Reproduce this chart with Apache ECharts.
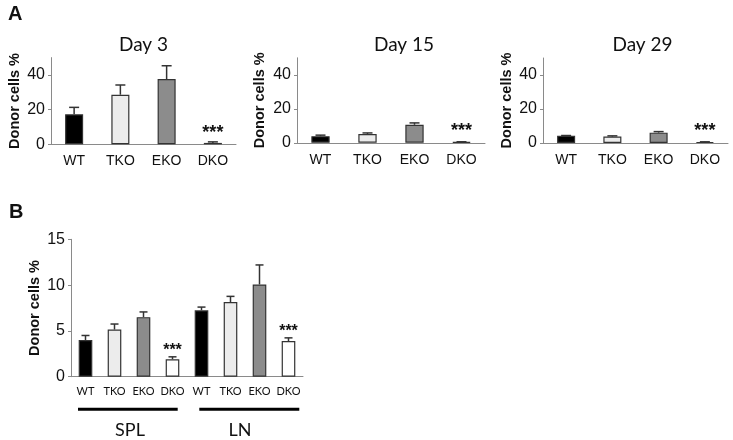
<!DOCTYPE html>
<html>
<head>
<meta charset="utf-8">
<script src="https://cdn.jsdelivr.net/npm/echarts@6/dist/echarts.min.js"></script>
<style>html,body{margin:0;padding:0;background:#fff;}#c{width:733px;height:440px;}</style>
</head>
<body>
<div id="c"></div>
<script>
const categories = ['WT', 'TKO', 'EKO', 'DKO'];
const panelTitles = ['Day 3', 'Day 15', 'Day 29'];
const day3Values = [17.3, 28.6, 37.6, 0.8];
const day3Errors = [4.0, 5.6, 7.7, 0.6];
const day15Values = [3.9, 5.2, 10.6, 0.5];
const day15Errors = [0.6, 0.6, 1.1, 0.1];
const day29Values = [4.3, 3.8, 6.1, 0.6];
const day29Errors = [0.1, 0.4, 0.6, 0.1];
const significanceA = ['', '', '', '***'];
const yTicksA = [0, 20, 40];

const bCategories = ['WT', 'TKO', 'EKO', 'DKO', 'WT', 'TKO', 'EKO', 'DKO'];
const bValues = [4.0, 5.15, 6.5, 1.9, 7.25, 8.15, 10.07, 3.9];
const bErrors = [0.5, 0.6, 0.57, 0.27, 0.35, 0.62, 2.13, 0.34];
const significanceB = ['', '', '', '***', '', '', '', '***'];
const yTicksB = [0, 5, 10, 15];
const bGroups = ['SPL', 'LN'];
const yName = 'Donor cells %';

const barColors = ['#000000', '#ececec', '#8c8c8c', '#ffffff'];
const chart = echarts.init(document.getElementById('c'));

const grids = [
  {left: 51, top: 57.6, width: 185, height: 86.7},
  {left: 297, top: 57.8, width: 188, height: 85},
  {left: 543, top: 58, width: 185, height: 85},
  {left: 71, top: 239.3, width: 232, height: 137.4}
];

function xAxisCfg(idx, cats, fs, margin, font) {
  return {
    type: 'category', gridIndex: idx, data: cats,
    axisLine: {lineStyle: {color: '#8a8a8a', width: 1}},
    axisTick: {length: 4, lineStyle: {color: '#8a8a8a'}},
    axisLabel: {fontSize: fs, color: '#111', margin: margin, fontFamily: font, interval: 0}
  };
}
function yAxisCfg(idx, max, ticks, gap) {
  return {
    type: 'value', gridIndex: idx, min: 0, max: max,
    splitLine: {show: false},
    axisLine: {show: true, lineStyle: {color: '#8a8a8a'}},
    axisTick: {show: true, length: 3, customValues: ticks, lineStyle: {color: '#8a8a8a'}},
    axisLabel: {customValues: ticks, fontSize: 16, color: '#111', margin: 6, fontFamily: 'Liberation Sans'},
    name: yName, nameLocation: 'middle', nameGap: gap, nameRotate: 90,
    nameTextStyle: {fontSize: 14.5, fontWeight: 'bold', color: '#111', fontFamily: 'Liberation Sans'}
  };
}

function barSeries(idx, values) {
  return {
    type: 'bar', xAxisIndex: idx, yAxisIndex: idx,
    barWidth: idx === 3 ? '47%' : '39%',
    data: values.map((v, i) => ({value: v, itemStyle: {color: barColors[i % 4], borderColor: '#333', borderWidth: 1.2}})),
    silent: true, animation: false
  };
}
function errSeries(idx, values, errors, sig, capHalf, sigFont, sigGap) {
  return {
    type: 'custom', xAxisIndex: idx, yAxisIndex: idx, animation: false, silent: true,
    data: values.map((v, i) => [i, v, errors[i]]),
    renderItem: function (params, api) {
      const i = api.value(0), v = api.value(1), e = api.value(2);
      const s = sig[params.dataIndex];
      const b = api.coord([i, v]);
      const t = api.coord([i, v + e]);
      const children = [
        {type: 'line', shape: {x1: b[0], y1: b[1], x2: t[0], y2: t[1]}, style: {stroke: '#333', lineWidth: 1.5}},
        {type: 'line', shape: {x1: t[0] - capHalf, y1: t[1], x2: t[0] + capHalf, y2: t[1]}, style: {stroke: '#333', lineWidth: 1.5}}
      ];
      if (s) {
        children.push({type: 'text', style: {text: s, x: t[0], y: t[1] - sigGap, align: 'center', verticalAlign: 'bottom',
          font: 'bold ' + sigFont + 'px "Liberation Sans"', fill: '#111'}});
      }
      return {type: 'group', children: children};
    }
  };
}

const titleXs = [138.5, 399, 637.5];
const option = {
  animation: false,
  backgroundColor: '#fff',
  title: panelTitles.map((t, i) => ({
    text: t, left: titleXs[i], top: 30, textAlign: 'center',
    textStyle: {fontSize: 19, fontWeight: 'normal', color: '#111', fontFamily: 'Lato'}
  })),
  grid: grids,
  xAxis: [
    xAxisCfg(0, categories, 14, 10, 'Liberation Sans'),
    xAxisCfg(1, categories, 14, 10, 'Liberation Sans'),
    xAxisCfg(2, categories, 14, 10, 'Liberation Sans'),
    xAxisCfg(3, bCategories, 11, 9, 'Lato')
  ],
  yAxis: [
    yAxisCfg(0, 50, yTicksA, 29),
    yAxisCfg(1, 50, yTicksA, 30),
    yAxisCfg(2, 50, yTicksA, 29),
    yAxisCfg(3, 15, yTicksB, 29)
  ],
  series: [
    barSeries(0, day3Values), errSeries(0, day3Values, day3Errors, significanceA, 5, 18, 0),
    barSeries(1, day15Values), errSeries(1, day15Values, day15Errors, significanceA, 5, 18, 2),
    barSeries(2, day29Values), errSeries(2, day29Values, day29Errors, significanceA, 5, 18, 2),
    barSeries(3, bValues), errSeries(3, bValues, bErrors, significanceB, 4, 16, -2)
  ],
  graphic: [
    {type: 'text', left: 8, top: 4, style: {text: 'A', font: 'bold 20px "Liberation Sans"', fill: '#111'}},
    {type: 'text', left: 9, top: 202, style: {text: 'B', font: 'bold 20px "Liberation Sans"', fill: '#111'}},
    {type: 'line', shape: {x1: 78, y1: 409.3, x2: 177.7, y2: 409.3}, style: {stroke: '#000', lineWidth: 3}},
    {type: 'line', shape: {x1: 199.3, y1: 409.3, x2: 299.3, y2: 409.3}, style: {stroke: '#000', lineWidth: 3}},
    {type: 'text', x: 130, y: 430, style: {text: bGroups[0], align: 'center', verticalAlign: 'middle', font: '18px Lato', fill: '#111'}},
    {type: 'text', x: 240, y: 430, style: {text: bGroups[1], align: 'center', verticalAlign: 'middle', font: '18px Lato', fill: '#111'}}
  ]
};
chart.setOption(option);
</script>
</body>
</html>
